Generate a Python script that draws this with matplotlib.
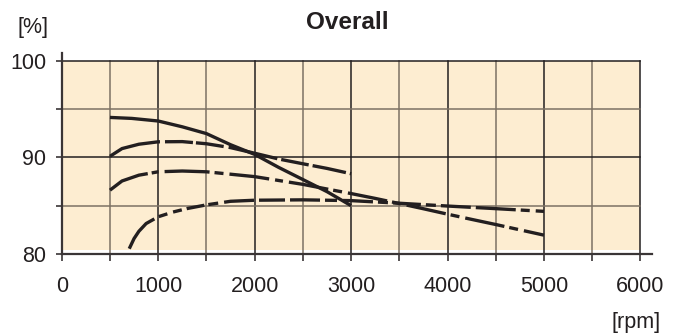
import matplotlib
matplotlib.use('Agg')
import matplotlib.pyplot as plt
from matplotlib.patches import Rectangle

# values
rpm_a = [500, 725, 1000, 1250, 1500, 1750, 2000, 2250, 2500, 2750, 3000]
eff_a = [94.12, 94.02, 93.75, 93.15, 92.45, 91.3, 90.3, 88.95, 87.7, 86.45, 85.0]

rpm_b = [500, 625, 800, 1000, 1250, 1500, 1750, 2000, 2250, 2500, 2750, 3000]
eff_b = [90.1, 90.9, 91.35, 91.6, 91.62, 91.4, 91.0, 90.42, 89.82, 89.33,
         88.85, 88.3]

rpm_c = [500, 625, 800, 1000, 1250, 1500, 1750, 2000, 2250, 2500, 2750, 3000,
         3250, 3500, 3750, 4000, 4250, 4500, 4750, 5000]
eff_c = [86.6, 87.55, 88.15, 88.5, 88.58, 88.5, 88.25, 88.0, 87.6, 87.2,
         86.72, 86.25, 85.75, 85.22, 84.68, 84.12, 83.58, 83.05, 82.5, 81.95]

rpm_d = [700, 750, 800, 875, 1000, 1150, 1300, 1500, 1750, 2000, 2500, 3000,
         3500, 4000, 4500, 5000]
eff_d = [80.55, 81.6, 82.35, 83.15, 83.85, 84.33, 84.7, 85.08, 85.45, 85.56,
         85.6, 85.52, 85.25, 84.96, 84.69, 84.41]

x_labels = ['0', '1000', '2000', '3000', '4000', '5000', '6000']
y_labels = ['80', '', '90', '', '100']

ink = '#231f20'
plt.rcParams['font.family'] = ['Liberation Sans', 'DejaVu Sans']
plt.rcParams['lines.scale_dashes'] = False

def px(seq):
    # dash lengths measured in pixels -> points
    return [v * 0.72 for v in seq]

fig = plt.figure(figsize=(6.86, 3.33), dpi=100)
ax = fig.add_axes([0.09, 0.2372, 0.8604, 0.6042])
ax.set_xlim(0, 6120)
ax.set_ylim(80, 100.8)

ax.add_patch(Rectangle((0, 80.4), 6000, 19.6, facecolor='#fdedd1',
                       edgecolor='none', zorder=0))
for xv in range(500, 6001, 500):
    col = ink if xv % 1000 == 0 else '#7d7264'
    ax.plot([xv, xv], [80, 100], color=col, lw=1.1, zorder=1)
for yv in [85, 90, 95, 100]:
    col = ink if yv % 10 == 0 else '#7d7264'
    ax.plot([0, 6000], [yv, yv], color=col, lw=1.1, zorder=1)

lw = 2.4
ax.plot(rpm_a, eff_a, color=ink, lw=lw, solid_capstyle='butt',
        solid_joinstyle='round', zorder=3)
ax.plot(rpm_b, eff_b, color=ink, lw=lw, zorder=3, dash_capstyle='butt',
        dash_joinstyle='round',
        dashes=px([53, 5, 28, 3, 28, 5, 50, 4, 28, 4, 34, 4, 28, 4, 40, 4]))
ax.plot(rpm_c, eff_c, color=ink, lw=lw, zorder=3, dash_capstyle='butt',
        dash_joinstyle='round',
        dashes=px([42, 4, 7, 6, 45, 5, 9, 6, 40, 6, 8, 6, 40, 5, 9, 6,
                   40, 5, 9, 6, 40, 5, 9, 6, 40, 5, 9, 6, 40, 5, 9, 6]))
ax.plot(rpm_d, eff_d, color=ink, lw=lw, zorder=3, dash_capstyle='butt',
        dash_joinstyle='round',
        dashes=px([40, 5, 9, 6, 9, 5, 18, 4, 10, 6, 30, 5, 26, 5, 30, 5,
                   12, 6, 30, 5, 10, 5, 28, 5, 10, 5, 30, 5]))

for s in ['top', 'right']:
    ax.spines[s].set_visible(False)
for s in ['left', 'bottom']:
    ax.spines[s].set_color('#3a3536')
    ax.spines[s].set_linewidth(1.6)

ax.set_xticks(range(0, 6001, 500))
ax.set_xticklabels([v for x in x_labels for v in (x, '')][:-1])
ax.set_yticks([80, 85, 90, 95, 100])
ax.set_yticklabels(y_labels)
ax.tick_params(axis='x', length=5, width=1.2, color='#3a3536', pad=11,
               labelsize=15.5, labelcolor=ink)
ax.tick_params(axis='y', length=4, width=1.2, color='#3a3536', pad=7,
               labelsize=15.5, labelcolor=ink)

fig.text(0.506, 0.913, 'Overall', ha='center', va='baseline',
         fontsize=17.5, fontweight='bold', color=ink)
fig.text(0.025, 0.949, '[%]', ha='left', va='top', fontsize=15.5, color=ink)
fig.text(0.8917, 0.064, '[rpm]', ha='left', va='top', fontsize=15.5, color=ink)

fig.savefig('out.png', dpi=100)
